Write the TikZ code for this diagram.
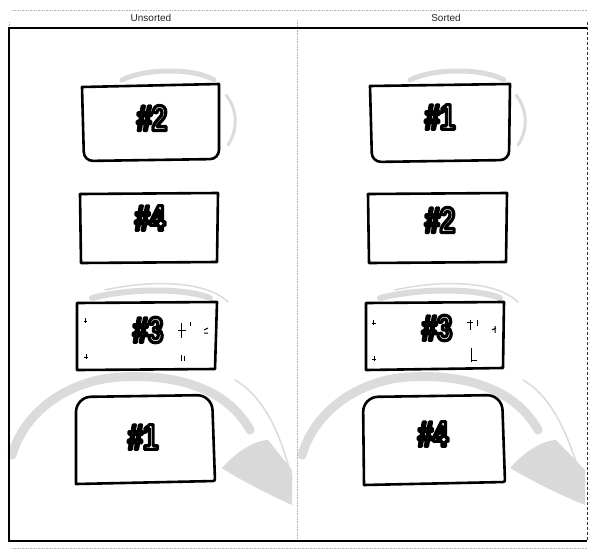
\documentclass[tikz,border=0pt]{standalone}
\usepackage{fontspec}
\setmainfont{Liberation Sans}
\newfontfamily\numfont[FakeStretch=0.76]{Liberation Sans}
\tikzset{
  frame/.style={line width=1.6pt, black},
  faint/.style={gray!60, line width=0.6pt, densely dotted},
  card/.style={line width=2.6pt, black, line join=round},
  num/.style={font=\numfont\bfseries\fontsize{36}{36}\selectfont, inner sep=0pt},
  head/.style={font=\fontsize{10}{10}\selectfont, text=black!85, inner sep=0pt},
  shade/.style={gray!28, line cap=round},
  scrib/.style={line width=1pt, black}
}
\newcommand{\outl}[1]{{\color{white}\special{pdf:literal direct 0 G 2 Tr 3.2 w 1 j}#1\special{pdf:literal direct 0 Tr 1 w 0 j}}}
\begin{document}
\begin{tikzpicture}[x=1pt,y=-1pt]
\useasboundingbox (0,0) rectangle (600,552);
\fill[white] (0,0) rectangle (600,552);

% ---- background shading (left panel)
\draw[shade, line width=5pt] (122,80) .. controls (145,68) and (195,68) .. (214,80);
\draw[shade, line width=3pt] (226,95) .. controls (238,110) and (238,130) .. (228,145);
\draw[shade, line width=6pt] (92,298) .. controls (130,288) and (185,288) .. (210,298);
\draw[shade, line width=1.5pt] (105,290) .. controls (150,280) and (205,280) .. (228,302);
\draw[shade, line width=9pt] (12,455) .. controls (25,410) and (70,380) .. (120,377)
      .. controls (170,374) and (225,385) .. (250,430);
\fill[gray!30] (222,468) .. controls (240,448) and (258,440) .. (268,440)
      -- (292,470) -- (292,505) .. controls (270,495) and (240,480) .. cycle;
\draw[shade, line width=1.5pt] (235,380) .. controls (270,400) and (285,450) .. (292,480);
% ---- background shading (right panel)
\draw[shade, line width=5pt] (410,80) .. controls (433,68) and (483,68) .. (504,80);
\draw[shade, line width=3pt] (516,95) .. controls (528,110) and (528,130) .. (518,145);
\draw[shade, line width=6pt] (380,298) .. controls (420,288) and (475,288) .. (500,298);
\draw[shade, line width=1.5pt] (395,290) .. controls (440,280) and (495,280) .. (518,302);
\draw[shade, line width=9pt] (302,455) .. controls (315,410) and (360,380) .. (408,377)
      .. controls (458,374) and (513,385) .. (538,430);
\fill[gray!30] (510,468) .. controls (528,448) and (546,440) .. (556,440)
      -- (585,470) -- (585,505) .. controls (560,495) and (530,480) .. cycle;
\draw[shade, line width=1.5pt] (523,380) .. controls (558,400) and (572,450) .. (582,480);

% ---- panel frames
\draw[faint] (12,10) -- (587,10);
\draw[faint] (9,22) -- (9,28);
\draw[faint] (12,548) -- (587,548);
\draw[faint] (297,20) -- (297,541);
\draw[black!80, line width=1pt, densely dashed] (587,22) -- (587,541);
\draw[frame] (587,28) -- (9,28) -- (9,541) -- (587,541);

\node[head] (hU) at (151,18) {Unsorted};
\node[head] (hS) at (446,18) {Sorted};

% ---- left cards
\draw[card] (82,87) -- (219,84) [rounded corners=9pt] -- (219,159) -- (84,161) [sharp corners] -- cycle;
\node[num] (l2) at (152,118) {\outl{\#2}};

\draw[card] (80,194) -- (218,193) -- (217,262) -- (81,263) -- cycle;
\node[num] (l4) at (150,218) {\outl{\#4}};

\draw[card] (77,303) -- (217,302) -- (215,369) -- (77,370) -- cycle;
\node[num] (l3) at (148,330) {\outl{\#3}};
\draw[scrib] (84,321) -- (87,321) (85,318) -- (85,323);
\draw[scrib] (84,357) -- (88,357) (86,354) -- (86,359);
\draw[scrib] (181,323) -- (181,338) (178,330) -- (186,330) (190,322) -- (190,326);
\draw[scrib] (204,330) -- (208,328) (204,333) -- (208,333);
\draw[scrib] (181,355) -- (181,361) (184,356) -- (184,361);

\draw[card] (76,484) [rounded corners=15pt] -- (76,397) -- (212,395) [rounded corners=2pt] -- (215,481) [sharp corners] -- cycle;
\node[num] (l1) at (143,437) {\outl{\#1}};

% ---- right cards
\draw[card] (370,86) -- (510,84) [rounded corners=9pt] -- (509,160) -- (372,162) [sharp corners] -- cycle;
\node[num] (r1) at (440,117) {\outl{\#1}};

\draw[card] (368,194) -- (507,193) -- (506,262) -- (369,263) -- cycle;
\node[num] (r2) at (440,220) {\outl{\#2}};

\draw[card] (366,303) -- (504,302) -- (503,368) -- (366,370) -- cycle;
\node[num] (r3) at (437,328) {\outl{\#3}};
\draw[scrib] (372,323) -- (376,323) (373,320) -- (373,325);
\draw[scrib] (372,359) -- (376,359) (374,356) -- (374,361);
\draw[scrib] (467,322) -- (473,322) (470,320) -- (470,330) (477,320) -- (477,326);
\draw[scrib] (492,330) -- (496,328) (495,326) -- (495,333);
\draw[scrib] (471,348) -- (471,362) (471,360) -- (477,360);

\draw[card] (364,485) [rounded corners=15pt] -- (363,397) -- (502,395) [rounded corners=2pt] -- (505,482) [sharp corners] -- cycle;
\node[num] (r4) at (433,434) {\outl{\#4}};
\end{tikzpicture}
\end{document}
